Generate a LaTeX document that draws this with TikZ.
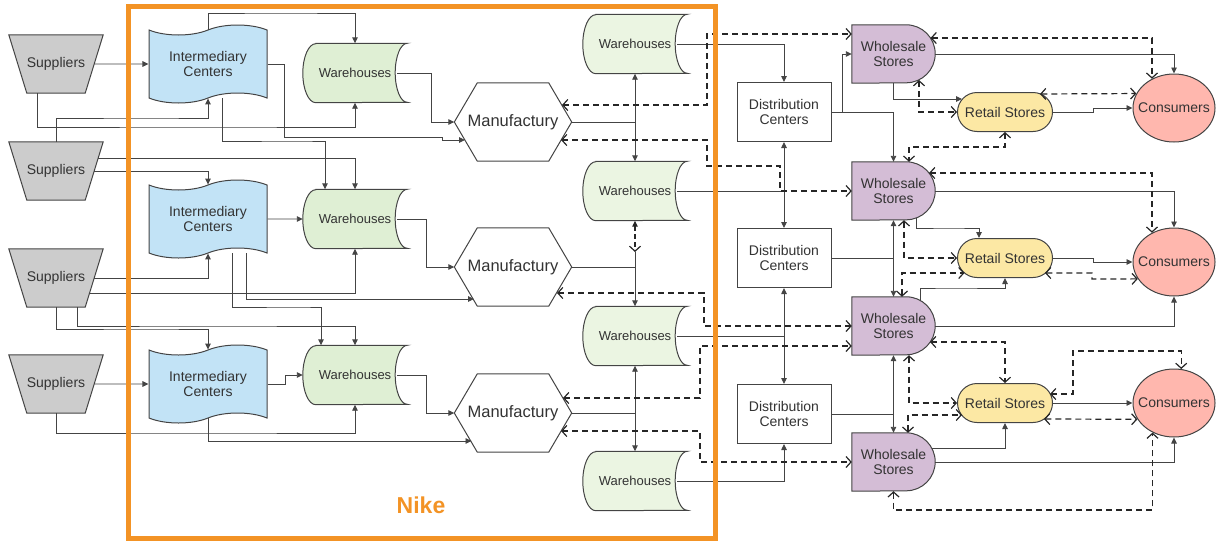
\documentclass[tikz,border=0pt]{standalone}
\usepackage{fontspec}
\setmainfont{Liberation Sans}
\usetikzlibrary{shapes.geometric,shapes.symbols,arrows.meta,calc,backgrounds}

\definecolor{nikeorange}{HTML}{F39325}
\definecolor{edgegray}{HTML}{444444}
\definecolor{txtgray}{HTML}{333333}
\definecolor{suppfill}{HTML}{CCCCCC}
\definecolor{interfill}{HTML}{C2E3F6}
\definecolor{wareleft}{HTML}{DFEFD4}
\definecolor{wareright}{HTML}{EBF5E2}
\definecolor{wholefill}{HTML}{D4BDD6}
\definecolor{retailfill}{HTML}{FCE8A4}
\definecolor{consfill}{HTML}{FFB7AE}

\tikzset{
  box/.style={text=txtgray, font=\fontsize{14}{15}\selectfont, align=center, inner sep=2pt},
  outline/.style={draw=edgegray, line width=1pt},
  supplier/.style={box, minimum width=94pt, minimum height=58pt},
  intercenter/.style={box, outline, tape, tape bend top=in and out, tape bend bottom=in and out,
    tape bend height=10pt, minimum width=118pt, minimum height=78pt, fill=interfill},
  warehouse/.style={box, font=\fontsize{13}{15}\selectfont, minimum width=104pt, minimum height=59pt},
  factory/.style={box, font=\fontsize{16.5}{18}\selectfont, minimum width=117pt, minimum height=78pt},
  distcenter/.style={box, outline, minimum width=94pt, minimum height=59pt, fill=white},
  wholesale/.style={box, minimum width=83pt, minimum height=58pt},
  retail/.style={box, outline, rounded corners=19.5pt, minimum width=95pt, minimum height=39pt, fill=retailfill},
  consumer/.style={box, outline, ellipse, minimum width=82pt, minimum height=68pt, fill=consfill, inner sep=0pt},
  nikelabel/.style={text=nikeorange, font=\bfseries\fontsize{23}{26}\selectfont},
  link/.style={draw=edgegray, line width=0.9pt},
  flow/.style={link, -{Triangle[length=6pt,width=5.5pt]}},
  twoway/.style={link, {Triangle[length=6pt,width=5.5pt]}-{Triangle[length=6pt,width=5.5pt]}},
  feedback/.style={draw=black!85, line width=1.2pt, dash pattern=on 6pt off 4pt,
    {Straight Barb[length=5pt,width=11pt]}-{Straight Barb[length=5pt,width=11pt]}},
  mixed/.style={draw=black!85, line width=1.2pt, dash pattern=on 5pt off 3pt,
    {Triangle[length=6pt,width=5.5pt]}-{Straight Barb[length=5pt,width=11pt]}}
}

\begin{document}
\begin{tikzpicture}[x=1pt,y=1pt]
  \useasboundingbox (0,0) rectangle (1225,-541);

  % suppliers
  \node[supplier] (sa) at (56,-64) {Suppliers};
  \node[supplier] (sb) at (56,-171) {Suppliers};
  \node[supplier] (sc) at (56,-278) {Suppliers};
  \node[supplier] (sd) at (56,-384) {Suppliers};

  % inside Nike
  \node[intercenter] (ia) at (208,-64) {Intermediary\\Centers};
  \node[intercenter] (ib) at (208,-219) {Intermediary\\Centers};
  \node[intercenter] (ic) at (208,-384) {Intermediary\\Centers};
  \node[warehouse] (wa) at (355,-73) {Warehouses};
  \node[warehouse] (wb) at (355,-219) {Warehouses};
  \node[warehouse] (wc) at (355,-375) {Warehouses};
  \node[factory] (ma) at (513,-122) {Manufactury};
  \node[factory] (mb) at (513,-267) {Manufactury};
  \node[factory] (mc) at (513,-413) {Manufactury};
  \node[warehouse] (va) at (635,-44) {Warehouses};
  \node[warehouse] (vb) at (635,-191) {Warehouses};
  \node[warehouse] (vc) at (635,-336) {Warehouses};
  \node[warehouse] (vd) at (635,-481) {Warehouses};
  \node[nikelabel] (nike) at (421,-505) {Nike};

  % distribution side
  \node[distcenter] (da) at (784,-112) {Distribution\\Centers};
  \node[distcenter] (db) at (784,-258) {Distribution\\Centers};
  \node[distcenter] (dc) at (784,-414) {Distribution\\Centers};
  \node[wholesale] (ha) at (893.5,-54) {Wholesale\\Stores};
  \node[wholesale] (hb) at (893.5,-191) {Wholesale\\Stores};
  \node[wholesale] (hc) at (893.5,-326) {Wholesale\\Stores};
  \node[wholesale] (hd) at (893.5,-462) {Wholesale\\Stores};
  \node[retail] (ra) at (1005,-112) {Retail Stores};
  \node[retail] (rb) at (1005,-258) {Retail Stores};
  \node[retail] (rc) at (1005,-403) {Retail Stores};
  \node[consumer] (ca) at (1174,-108) {\makebox[0pt]{Consumers}};
  \node[consumer] (cb) at (1174,-262) {\makebox[0pt]{Consumers}};
  \node[consumer] (cc) at (1174,-403) {\makebox[0pt]{Consumers}};

  % outlines of the special shapes
  \begin{scope}[on background layer]
    \foreach \s in {sa,sb,sc,sd}
      \draw[outline, fill=suppfill] (\s.north west) -- (\s.north east)
        -- ([xshift=-18pt]\s.south east) -- ([xshift=18pt]\s.south west) -- cycle;
    \foreach \w/\c in {wa/wareleft,wb/wareleft,wc/wareleft,va/wareright,vb/wareright,vc/wareright,vd/wareright}
      \draw[outline, fill=\c] ([xshift=13pt]\w.north west) -- (\w.north east)
        arc[start angle=90, end angle=270, x radius=12pt, y radius=29.5pt]
        -- ([xshift=13pt]\w.south west)
        arc[start angle=270, end angle=90, x radius=13pt, y radius=29.5pt] -- cycle;
    \foreach \m in {ma,mb,mc}
      \draw[outline, fill=white] (\m.west) -- ([xshift=23pt]\m.north west) -- ([xshift=-23pt]\m.north east)
        -- (\m.east) -- ([xshift=-23pt]\m.south east) -- ([xshift=23pt]\m.south west) -- cycle;
    \foreach \h in {ha,hb,hc,hd}
      \draw[outline, fill=wholefill] (\h.north west) -- ([xshift=-29pt]\h.north east)
        arc[start angle=90, end angle=-90, radius=29pt] -- (\h.south west) -- cycle;
  \end{scope}

  % suppliers to Nike
  \draw[flow] ($(sa)+(38,0)$) -- (ia);
  \draw[flow] (ia.north) |- (280,-13) -| (wa.north);
  \draw[flow] ([xshift=-19pt]sa.south) |- (200,-127) -| (wa.south);
  \draw[flow] (sb.north) |- (150,-118) -| (ia.south);
  \draw[flow] (ia.east) -| (284,-137) -- (442,-137) |- ($(ma)+(-48,-18)$);
  \draw[flow] ([xshift=14pt]ia.south) |- (300,-141) -| ([xshift=-30pt]wb.north);
  \draw[flow] ($(sb)+(42,13)$) -| (wb.north);
  \draw[flow] ($(sb)+(38,0)$) -| (ib.north);
  \draw[flow] ([xshift=-10pt]wa.east) -| (431,-122) -- (ma.west);
  \draw[flow] (ib) -- (wb);
  \draw[flow] ($(sc)+(38,0)$) -| (ib.south);
  \draw[flow] ($(sc)+(33,-15)$) -| (wb.south);
  \draw[flow] ([xshift=38pt]ib.south) |- ($(mb)+(-39,-32)$);
  \draw[flow] ([xshift=24pt]ib.south) |- (300,-307) -| ([xshift=-34pt]wc.north);
  \draw[flow] ([xshift=21pt]sc.south) |- (200,-326) -| (wc.north);
  \draw[flow] (sc.south) |- (150,-329) -| (ic.north);
  \draw[flow] ($(sd)+(38,0)$) -- (ic);
  \draw[flow] (sd.south) |- (200,-433) -| (wc.south);
  \draw[flow] (ic.east) -| (285,-375) -- (wc.west);
  \draw[flow] (ic.south) |- ($(mc)+(-41.5,-28)$);
  \draw[flow] ([xshift=-10pt]wb.east) -| (426,-267) -- (mb.west);
  \draw[flow] ([xshift=-10pt]wc.east) -| (426,-413) -- (mc.west);

  % manufactury to warehouses
  \coordinate (vbmid) at (635,-252);
  \draw[link] (ma.east) -- (ma.east -| va.south);
  \draw[twoway] (va.south) -- (vb.north);
  \draw[link] (mb.east) -- (mb.east -| vb.south);
  \draw[mixed] (vb.south) -- (vbmid);
  \draw[flow] (vbmid) -- (vc.north);
  \draw[link] (mc.east) -- (mc.east -| vc.south);
  \draw[twoway] (vc.south) -- (vd.north);

  % warehouses to distribution
  \draw[flow] ([xshift=-10pt]va.east) -| (da.north);
  \draw[link] ([xshift=-10pt]vb.east) -- (vb.east -| da.south);
  \draw[twoway] (da.south) -- (db.north);
  \draw[link] ([xshift=-10pt]vc.east) -- (vc.east -| db.south);
  \draw[twoway] (db.south) -- (dc.north);
  \draw[flow] ([xshift=-10pt]vd.east) -| (dc.south);

  % distribution to wholesale
  \draw[flow] (da.east) -| (842,-54) -- (ha.west);
  \draw[flow] (da.east) -| (hb.north);
  \draw[link] (db.east) -- (db.east -| hb.south);
  \draw[twoway] (hb.south) -- (hc.north);
  \draw[link] (dc.east) -- (dc.east -| hc.south);
  \draw[twoway] (hc.south) -- (hd.north);

  % wholesale and retail to consumers
  \draw[flow] (ha.east) -| (ca.north);
  \draw[flow] (ha.south) |- ($(ra)+(-43,13)$);
  \draw[flow] (hb.east) -| (cb.north);
  \draw[flow] ($(hb)+(23,-27)$) |- (950,-228) -| ([xshift=-26pt]rb.north);
  \draw[flow] ($(hc)+(27,25)$) |- (950,-288) -| (rb.south);
  \draw[flow] (hc.east) -| (cb.south);
  \draw[flow] ($(hd)+(38,14)$) -| (rc.south);
  \draw[flow] (hd.east) -| (cc.south);
  \draw[flow] (ra.east) -| (1093,-108) -- (ca.west);
  \draw[flow] (rb.east) -| (1093,-262) -- (cb.west);
  \draw[flow] (rc) -- (cc);

  % feedback
  \draw[feedback] ($(ma)+(49,17)$) -| (707,-34) -- ([yshift=20pt]ha.west);
  \draw[feedback] ($(ma)+(48,-18)$) -| (707,-166) -| (780,-191) -- (hb.west);
  \draw[feedback] ($(mb)+(44,-26)$) -| (704,-326) -- (hc.west);
  \draw[feedback] ($(mc)+(50,15)$) -| (700,-346) -- ([yshift=-20pt]hc.west);
  \draw[feedback] ($(mc)+(48,-18)$) -| (700,-462) -- (hd.west);
  \draw[feedback] ($(ha)+(37,16)$) -| (ca.127.5);
  \draw[feedback] ($(ha)+(25.5,-26)$) |- (ra.west);
  \draw[feedback] (ra.south) |- (950,-147) -| ($(hb.north)+(15.5,0)$);
  \draw[feedback] ($(ra)+(35,18)$) -- (ca.159.5);
  \draw[feedback] ($(hb)+(35.5,18)$) -| (cb.127.5);
  \draw[feedback] ($(hb.south)+(10.5,0)$) |- (rb.west);
  \draw[feedback] ($(hc.north)+(8.5,0)$) |- ($(rb)+(-40.5,-15)$);
  \draw[feedback] ($(rb)+(40,-15)$) -| (1092,-279) -- (cb.205.6);
  \draw[feedback] ($(hc)+(36.5,-16)$) -| (rc.north);
  \draw[feedback] ($(hc.south)+(15.5,0)$) |- (rc.west);
  \draw[feedback] ($(hd.north)+(14.5,0)$) |- ($(rc)+(-43,-12)$);
  \draw[feedback] (hd.south) |- (1100,-510) -| (cc.234);
  \draw[feedback] ($(rc)+(39,-16)$) -- (cc.204);
  \draw[feedback] ($(rc)+(45,9)$) -| (1073,-351) -| (cc.78);

  % Nike frame
  \draw[nikeorange, line width=4.5pt] (128.5,-6.5) rectangle (715.5,-538.5);
\end{tikzpicture}
\end{document}
